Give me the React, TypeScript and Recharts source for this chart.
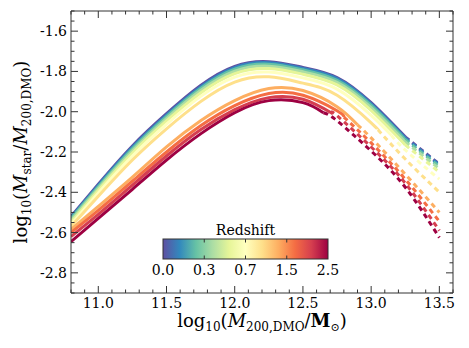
import React from 'react'
import { LineChart, Line, XAxis, YAxis, Customized } from 'recharts'

// halo mass grid (log10 M200,DMO) the curves were read at
const massGrid = [10.8, 11.0, 11.25, 11.5, 11.75, 12.0, 12.25, 12.5, 12.75, 13.0, 13.25, 13.5]

const redshifts = [0.0, 0.1, 0.2, 0.3, 0.5, 0.7, 1.0, 1.25, 1.5, 2.0, 2.5]
const spectral = [
  '#5e4fa2', '#3288bd', '#66c2a5', '#abdda4', '#e6f598', '#ffffbf',
  '#fee08b', '#fdae61', '#f46d43', '#d53e4f', '#9e0142',
]

// log10(Mstar / M200,DMO) per redshift
const ratioZ00 = [-2.52, -2.36, -2.17, -2.01, -1.87, -1.775, -1.752, -1.78, -1.83, -1.955, -2.125, -2.26]
const ratioZ01 = [-2.525, -2.366, -2.177, -2.017, -1.877, -1.781, -1.757, -1.785, -1.836, -1.961, -2.131, -2.265]
const ratioZ02 = [-2.53, -2.373, -2.184, -2.024, -1.885, -1.789, -1.764, -1.792, -1.844, -1.969, -2.139, -2.272]
const ratioZ03 = [-2.54, -2.381, -2.194, -2.034, -1.895, -1.799, -1.774, -1.802, -1.854, -1.98, -2.15, -2.283]
const ratioZ05 = [-2.55, -2.391, -2.205, -2.046, -1.907, -1.811, -1.786, -1.814, -1.867, -1.994, -2.165, -2.3]
const ratioZ07 = [-2.56, -2.403, -2.22, -2.062, -1.924, -1.828, -1.803, -1.832, -1.888, -2.018, -2.19, -2.335]
const ratioZ10 = [-2.57, -2.42, -2.24, -2.085, -1.95, -1.853, -1.827, -1.858, -1.918, -2.055, -2.235, -2.4]
const ratioZ125 = [-2.585, -2.47, -2.325, -2.175, -2.045, -1.945, -1.885, -1.895, -1.975, -2.13, -2.31, -2.5]
const ratioZ15 = [-2.6, -2.49, -2.345, -2.2, -2.07, -1.97, -1.91, -1.918, -1.995, -2.155, -2.335, -2.545]
const ratioZ20 = [-2.62, -2.51, -2.365, -2.22, -2.09, -1.99, -1.93, -1.938, -2.02, -2.175, -2.355, -2.59]
const ratioZ25 = [-2.645, -2.53, -2.385, -2.24, -2.11, -2.005, -1.945, -1.955, -2.045, -2.195, -2.375, -2.625]

const curves = [ratioZ00, ratioZ01, ratioZ02, ratioZ03, ratioZ05, ratioZ07, ratioZ10, ratioZ125, ratioZ15, ratioZ20, ratioZ25]

// where each curve turns from solid to dashed, and its value there
const solidUntil = [13.25, 13.25, 13.25, 13.25, 13.25, 13.15, 13.05, 12.9, 12.8, 12.72, 12.65]
const ratioAtCut = [-2.125, -2.131, -2.139, -2.15, -2.165, -2.118, -2.09, -2.065, -2.027, -2.01, -2.005]

const xMajor = [11.0, 11.5, 12.0, 12.5, 13.0, 13.5]
const yMajor = [-2.8, -2.6, -2.4, -2.2, -2.0, -1.8, -1.6]
const cbarLabels = ['0.0', '0.3', '0.7', '1.5', '2.5']

const xTicks = Array.from({ length: 29 }, (_, i) => +(10.8 + i * 0.1).toFixed(2))
const yTicks = Array.from({ length: 29 }, (_, i) => +(-2.9 + i * 0.05).toFixed(2))

const FONT = "'DejaVu Serif', serif"
const AX = '#333'

const isMajor = (v: number, list: number[]) => list.some((m) => Math.abs(m - v) < 1e-6)

function split(values: number[], cut: number, cutVal: number) {
  const pts = massGrid.map((x, i) => ({ x, y: values[i] }))
  const cutPt = { x: cut, y: cutVal }
  return {
    solid: [...pts.filter((p) => p.x < cut - 1e-6), cutPt],
    dashed: [cutPt, ...pts.filter((p) => p.x > cut + 1e-6)],
  }
}

const BottomTick = ({ x, y, payload }: any) => {
  const major = isMajor(payload.value, xMajor)
  return (
    <g>
      <line x1={x} x2={x} y1={y} y2={y - (major ? 7 : 3.5)} stroke={AX} />
      {major && (
        <text x={x} y={y + 15} textAnchor="middle" fontSize={14} fontFamily={FONT} fill="#000">
          {payload.value.toFixed(1)}
        </text>
      )}
    </g>
  )
}

const TopTick = ({ x, y, payload }: any) => {
  const major = isMajor(payload.value, xMajor)
  return <line x1={x} x2={x} y1={y} y2={y + (major ? 7 : 3.5)} stroke={AX} />
}

const LeftTick = ({ x, y, payload }: any) => {
  const major = isMajor(payload.value, yMajor)
  return (
    <g>
      <line x1={x} x2={x + (major ? 7 : 3.5)} y1={y} y2={y} stroke={AX} />
      {major && (
        <text x={x - 4} y={y + 5} textAnchor="end" fontSize={14} fontFamily={FONT} fill="#000">
          {payload.value.toFixed(1)}
        </text>
      )}
    </g>
  )
}

const RightTick = ({ x, y, payload }: any) => {
  const major = isMajor(payload.value, yMajor)
  return <line x1={x} x2={x - (major ? 7 : 3.5)} y1={y} y2={y} stroke={AX} />
}

const Overlay = () => {
  const cbX = 163
  const cbY = 239
  const cbW = 165
  const cbH = 20
  return (
    <g fontFamily={FONT} fill="#000">
      <defs>
        <linearGradient id="cbarGrad" x1="0" x2="1" y1="0" y2="0">
          {spectral.map((c, i) => (
            <stop key={c} offset={i / (spectral.length - 1)} stopColor={c} />
          ))}
        </linearGradient>
      </defs>
      <text x={cbX + cbW / 2} y={cbY - 4} textAnchor="middle" fontSize={14}>
        Redshift
      </text>
      <rect x={cbX} y={cbY} width={cbW} height={cbH} fill="url(#cbarGrad)" stroke={AX} strokeWidth={1} />
      {cbarLabels.map((l, i) => {
        const px = cbX + (i * cbW) / (cbarLabels.length - 1)
        return (
          <g key={l}>
            {i > 0 && i < cbarLabels.length - 1 && (
              <>
                <line x1={px} x2={px} y1={cbY} y2={cbY + 3.5} stroke={AX} />
                <line x1={px} x2={px} y1={cbY + cbH} y2={cbY + cbH - 3.5} stroke={AX} />
              </>
            )}
            <text x={px} y={cbY + cbH + 16} textAnchor="middle" fontSize={14}>
              {l}
            </text>
          </g>
        )
      })}

      <text x={262} y={327} textAnchor="middle" fontSize={18}>
        log
        <tspan fontSize={12} dy={4}>10</tspan>
        <tspan dy={-4}>(</tspan>
        <tspan fontStyle="italic">M</tspan>
        <tspan fontSize={12} dy={4}>200,DMO</tspan>
        <tspan dy={-4}>/</tspan>
        <tspan fontWeight="bold">M</tspan>
        <tspan fontSize={11} dy={4}>⊙</tspan>
        <tspan dy={-4}>)</tspan>
      </text>

      <text x={27} y={152} textAnchor="middle" fontSize={18} transform="rotate(-90 27 152)">
        log
        <tspan fontSize={12} dy={4}>10</tspan>
        <tspan dy={-4}>(</tspan>
        <tspan fontStyle="italic">M</tspan>
        <tspan fontSize={12} dy={4}>star</tspan>
        <tspan dy={-4}>/</tspan>
        <tspan fontStyle="italic">M</tspan>
        <tspan fontSize={12} dy={4}>200,DMO</tspan>
        <tspan dy={-4}>)</tspan>
      </text>
    </g>
  )
}

export default function App() {
  const series = curves.map((vals, i) => split(vals, solidUntil[i], ratioAtCut[i]))
  return (
    <div style={{ position: 'absolute', left: 0, top: 0, background: '#fff' }}>
      <LineChart width={469} height={348} margin={{ top: 10, right: 15, bottom: 25, left: 31 }}>
        <XAxis
          dataKey="x"
          type="number"
          domain={[10.8, 13.6]}
          allowDataOverflow
          ticks={xTicks}
          interval={0}
          height={30}
          tickSize={0}
          tickMargin={0}
          tick={<BottomTick />}
          axisLine={{ stroke: AX }}
        />
        <XAxis
          xAxisId="top"
          orientation="top"
          dataKey="x"
          type="number"
          domain={[10.8, 13.6]}
          allowDataOverflow
          ticks={xTicks}
          interval={0}
          height={1}
          tickSize={0}
          tickMargin={0}
          tick={<TopTick />}
          axisLine={{ stroke: AX }}
        />
        <YAxis
          type="number"
          domain={[-2.9, -1.5]}
          allowDataOverflow
          ticks={yTicks}
          interval={0}
          width={40}
          tickSize={0}
          tickMargin={0}
          tick={<LeftTick />}
          axisLine={{ stroke: AX }}
        />
        <YAxis
          yAxisId="right"
          orientation="right"
          type="number"
          domain={[-2.9, -1.5]}
          allowDataOverflow
          ticks={yTicks}
          interval={0}
          width={1}
          tickSize={0}
          tickMargin={0}
          tick={<RightTick />}
          axisLine={{ stroke: AX }}
        />
        {series.map((s, i) => [
          <Line
            key={`s${redshifts[i]}`}
            data={s.solid}
            dataKey="y"
            type="natural"
            stroke={spectral[i]}
            strokeWidth={3}
            dot={false}
            isAnimationActive={false}
          />,
          <Line
            key={`d${redshifts[i]}`}
            data={s.dashed}
            dataKey="y"
            type="natural"
            stroke={spectral[i]}
            strokeWidth={3}
            strokeDasharray="5 4"
            dot={false}
            isAnimationActive={false}
          />,
        ])}
        <Customized component={<Overlay />} />
      </LineChart>
    </div>
  )
}
